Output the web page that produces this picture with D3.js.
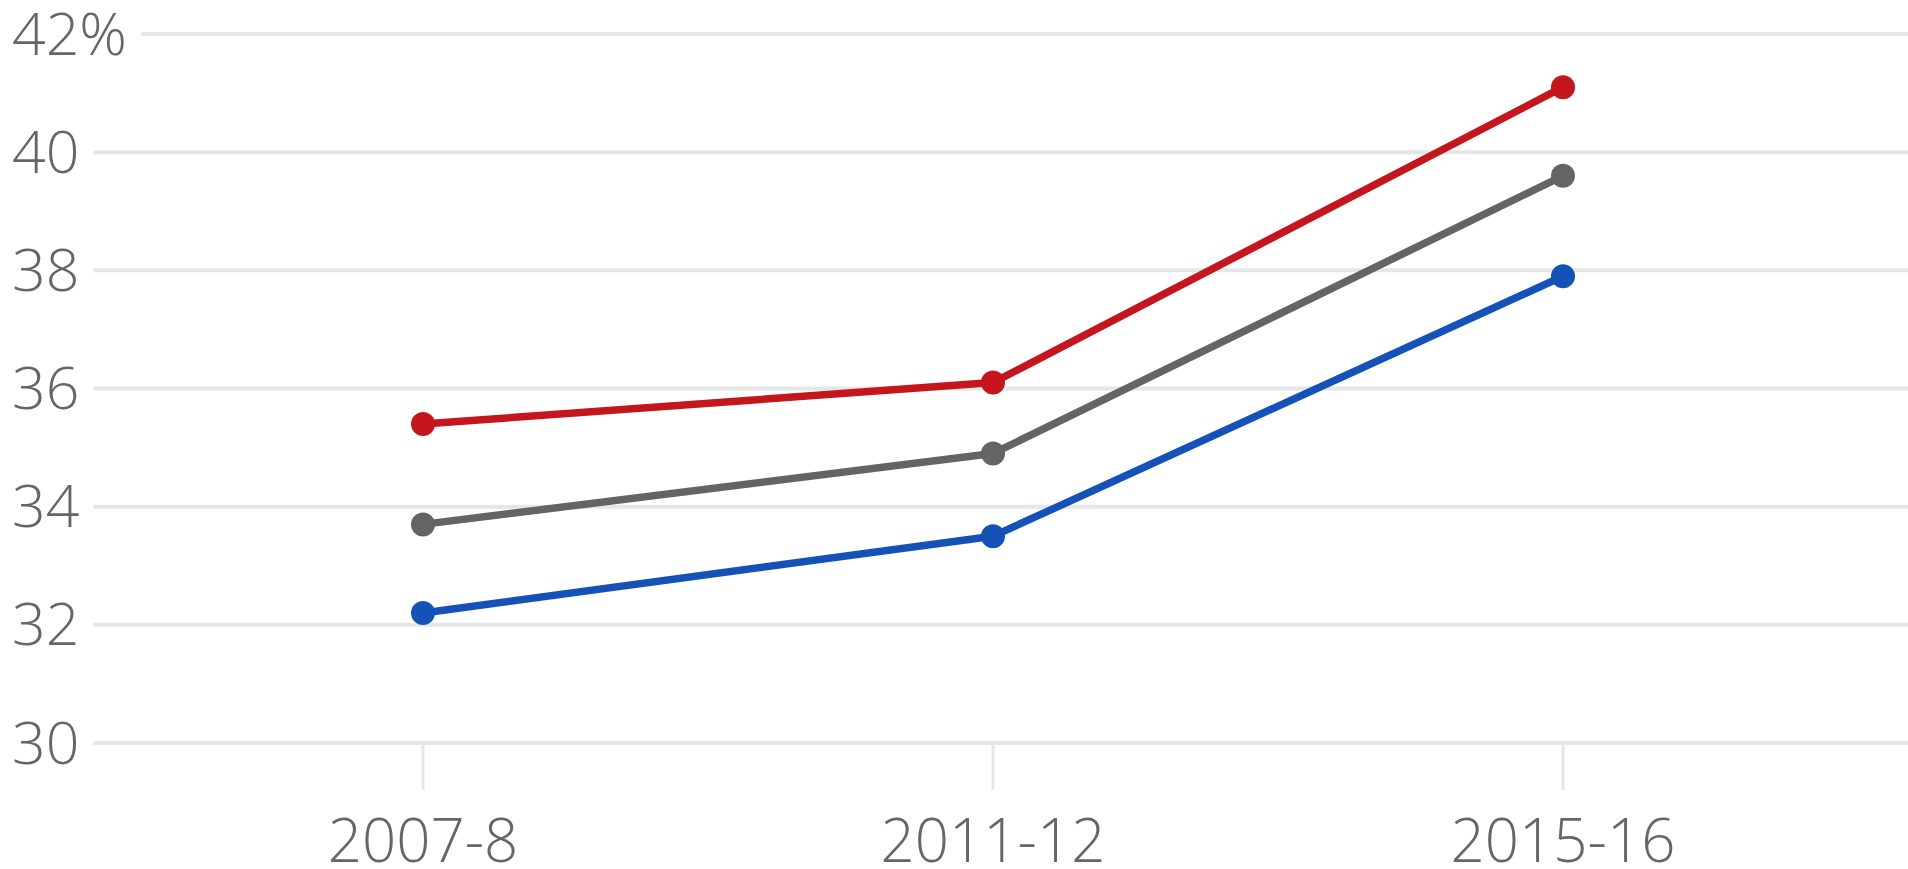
<!DOCTYPE html>
<html>
<head>
<meta charset="utf-8">
<script src="https://cdn.jsdelivr.net/npm/d3@7"></script>
<style>
  html, body { margin: 0; padding: 0; background: #fff; overflow: hidden; }
  svg { display: block; }
  text { font-family: "Open Sans", "Noto Sans", sans-serif; font-weight: 300; fill: #666666; }
</style>
</head>
<body>
<svg id="chart" width="1908" height="869"></svg>
<script>
// Survey periods along the x axis
const periods = ["2007-8", "2011-12", "2015-16"];

// Share (%) for each group
const redValues  = [35.4, 36.1, 41.1];
const grayValues = [33.7, 34.9, 39.6];
const blueValues = [32.2, 33.5, 37.9];

const seriesColors = ["#c4161c", "#646464", "#1452b8"];

// Y axis ticks
const yTicks = [30, 32, 34, 36, 38, 40, 42];

const width = 1908, height = 869;
const svg = d3.select("#chart");

const x = d3.scalePoint()
  .domain(periods)
  .range([423, 1563]);

const y = d3.scaleLinear()
  .domain([30, 42])
  .range([743, 34]);

// Horizontal gridlines with labels on the left
const grid = svg.append("g");
yTicks.forEach(t => {
  const label = grid.append("text")
    .attr("x", 12)
    .attr("y", y(t))
    .attr("dy", "0.35em")
    .attr("font-size", 59)
    .text(t === 42 ? "42%" : String(t));
  const w = label.node().getComputedTextLength();
  grid.insert("line", "text")
    .attr("x1", 12 + w + 14)
    .attr("x2", width)
    .attr("y1", y(t))
    .attr("y2", y(t))
    .attr("stroke", "#e6e6e6")
    .attr("stroke-width", 4);
});

// X axis ticks and labels
const xAxis = svg.append("g");
periods.forEach(p => {
  xAxis.append("line")
    .attr("x1", x(p)).attr("x2", x(p))
    .attr("y1", y(30)).attr("y2", 790)
    .attr("stroke", "#e6e6e6")
    .attr("stroke-width", 3);
  xAxis.append("text")
    .attr("x", x(p))
    .attr("y", 862)
    .attr("text-anchor", "middle")
    .attr("font-size", 60)
    .text(p);
});

// Lines with dots
const allSeries = [redValues, grayValues, blueValues];
const line = d3.line()
  .x((d, i) => x(periods[i]))
  .y(d => y(d));

allSeries.forEach((vals, si) => {
  const g = svg.append("g");
  g.append("path")
    .datum(vals)
    .attr("d", line)
    .attr("fill", "none")
    .attr("stroke", seriesColors[si])
    .attr("stroke-width", 7.5)
    .attr("stroke-linejoin", "round");
  g.selectAll("circle")
    .data(vals)
    .join("circle")
    .attr("cx", (d, i) => x(periods[i]))
    .attr("cy", d => y(d))
    .attr("r", 12)
    .attr("fill", seriesColors[si]);
});
</script>
</body>
</html>
